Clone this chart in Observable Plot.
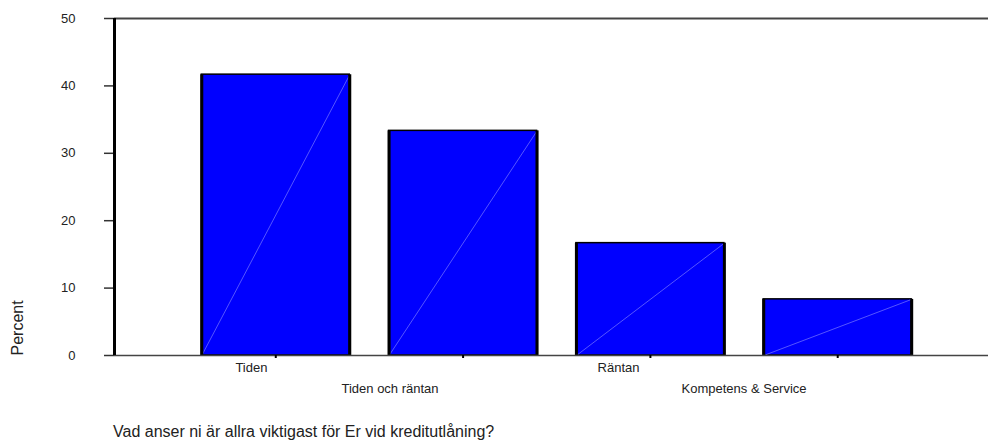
<!DOCTYPE html>
<html>
<head>
<meta charset="utf-8">
<script src="https://cdn.jsdelivr.net/npm/d3@7"></script>
<script src="https://cdn.jsdelivr.net/npm/@observablehq/plot@0.6"></script>
<style>
  html, body { margin: 0; padding: 0; background: #fff; }
  #wrap { position: relative; width: 988px; height: 441px; font-family: "Liberation Sans", Arial, sans-serif; }
  #caption { position: absolute; left: 113px; top: 423px; font-size: 16px; line-height: 18px; color: #222; white-space: nowrap; }
</style>
</head>
<body>
<div id="wrap">
  <div id="chart"></div>
  <div id="caption">Vad anser ni är allra viktigast för Er vid kreditutlåning?</div>
</div>
<script>
// Data
const categories = ["Tiden", "Tiden och räntan", "Räntan", "Kompetens & Service"];
const percents = [41.67, 33.33, 16.67, 8.33];
const yTicks = [0, 10, 20, 30, 40, 50];
const yLabel = "Percent";

// Layout (not data)
const xDomain = [-0.861, 3.805];
const halfWidth = 0.395;
const labelOffset = [-0.13, -0.39, -0.17, -0.50];

const rows = categories.map((c, i) => ({
  name: c, i, value: percents[i],
  x1: i - halfWidth, x2: i + halfWidth,
  lx: i + labelOffset[i]
}));

const chart = Plot.plot({
  width: 988,
  height: 441,
  marginLeft: 114,
  marginRight: 0,
  marginTop: 18,
  marginBottom: 86,
  style: { fontFamily: "'Liberation Sans', Arial, sans-serif", color: "#222", background: "#fff" },
  x: { domain: xDomain, axis: null },
  y: { domain: [0, 50], axis: null },
  marks: [
    Plot.ruleY([50], { stroke: "#444", strokeWidth: 2 }),
    Plot.rectY(rows, { x1: "x1", x2: "x2", y: "value", fill: "#0000ff", stroke: "#000", strokeWidth: 1.5 }),
    Plot.link(rows, { x1: "x1", y1: () => 0, x2: "x2", y2: "value", stroke: "#7a7aff", strokeWidth: 0.7 }),
    Plot.ruleX(rows, { x: "x1", y1: () => 0, y2: "value", stroke: "#000", strokeWidth: 3 }),
    Plot.ruleX(rows, { x: "x2", y1: () => 0, y2: "value", stroke: "#000", strokeWidth: 3 }),
    Plot.ruleY([0], { stroke: "#444", strokeWidth: 1.5 }),
    Plot.axisY({ ticks: yTicks, tickSize: 10, tickPadding: 29, fontSize: 13, label: null, stroke: "#333", strokeWidth: 1.5 }),
    Plot.axisX({ ticks: [0, 1, 2, 3], tickSize: 3, tickFormat: () => "", label: null, stroke: "#000", strokeWidth: 2 }),
    Plot.ruleX([xDomain[0]], { stroke: "#000", strokeWidth: 3 }),
    Plot.text(rows.filter(d => d.i % 2 === 0), { x: "lx", text: "name", frameAnchor: "bottom", dy: 16, fontSize: 13, fill: "#222" }),
    Plot.text(rows.filter(d => d.i % 2 === 1), { x: "lx", text: "name", frameAnchor: "bottom", dy: 37, fontSize: 13, fill: "#222" }),
    Plot.text([yLabel], { frameAnchor: "bottom-left", dx: -92, dy: 0, rotate: -90, fontSize: 16, fill: "#222" })
  ]
});
document.getElementById("chart").appendChild(chart);
</script>
</body>
</html>
